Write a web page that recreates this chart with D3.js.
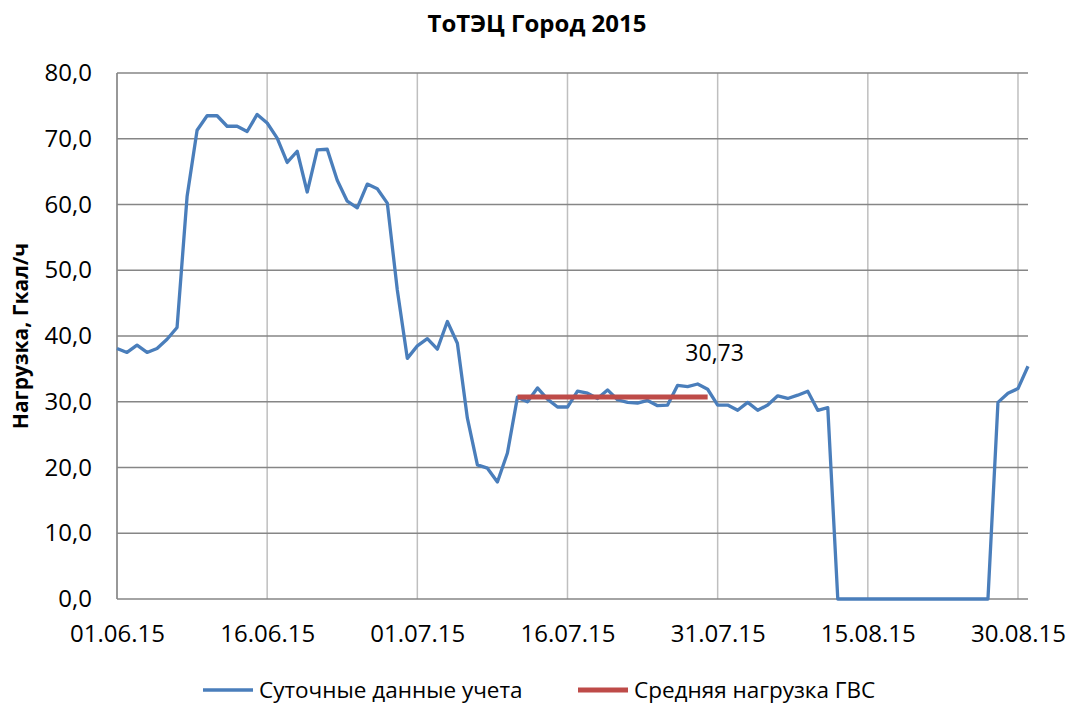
<!DOCTYPE html>
<html>
<head>
<meta charset="utf-8">
<script src="https://cdn.jsdelivr.net/npm/d3@7"></script>
<style>
  body { margin: 0; background: #fff; }
  svg text { font-family: "Open Sans", sans-serif; fill: #000; }
</style>
</head>
<body>
<svg id="chart" width="1074" height="704"></svg>
<script>
var title = 'ТоТЭЦ Город 2015';
var yTitle = 'Нагрузка, Гкал/ч';
var seriesNames = ['Суточные данные учета', 'Средняя нагрузка ГВС'];

var startDate = '2015-06-01';
var endDate = '2015-08-31';
var tickDates = ['2015-06-01', '2015-06-16', '2015-07-01', '2015-07-16', '2015-07-31', '2015-08-15', '2015-08-30'];
var yTicks = [0, 10, 20, 30, 40, 50, 60, 70, 80];

// daily metering values, one per day from 01.06.15
var daily = [
  38.1, 37.5, 38.6, 37.5, 38.1, 39.5, 41.3, 61.2, 71.3, 73.5,
  73.5, 71.9, 71.9, 71.1, 73.7, 72.4, 70.1, 66.4, 68.1, 61.9,
  68.3, 68.4, 63.7, 60.5, 59.5, 63.1, 62.4, 60.2, 47.0, 36.6,
  38.5, 39.6, 38.0, 42.2, 38.9, 27.5, 20.4, 19.9, 17.8, 22.2,
  30.7, 30.0, 32.1, 30.4, 29.2, 29.2, 31.6, 31.3, 30.5, 31.8,
  30.3, 29.9, 29.8, 30.2, 29.4, 29.5, 32.5, 32.3, 32.7, 31.9,
  29.5, 29.5, 28.7, 29.9, 28.7, 29.5, 30.9, 30.5, 31.0, 31.6,
  28.7, 29.1, 0, 0, 0, 0, 0, 0, 0, 0,
  0, 0, 0, 0, 0, 0, 0, 0, 29.9, 31.3,
  32.0, 35.4
];

var avgLoad = 30.73;
var avgFrom = '2015-07-11';
var avgTo = '2015-07-30';

var parse = d3.utcParse('%Y-%m-%d');
var fmtDate = d3.utcFormat('%d.%m.%y');
var fmtNum = function(v){ return d3.format('.1f')(v).replace('.', ','); };

var svg = d3.select('#chart');
var margin = { left: 117, right: 46, top: 73, bottom: 105 };
var width = 1074 - margin.left - margin.right;
var height = 704 - margin.top - margin.bottom;

var x = d3.scaleUtc()
  .domain([parse(startDate), parse(endDate)])
  .range([0, width]);
var y = d3.scaleLinear()
  .domain([0, 80])
  .range([height, 0]);

var g = svg.append('g')
  .attr('transform', 'translate(' + margin.left + ',' + margin.top + ')');

// vertical grid
g.append('g')
  .selectAll('line')
  .data(tickDates.map(parse))
  .enter().append('line')
  .attr('x1', function(d){ return x(d); })
  .attr('x2', function(d){ return x(d); })
  .attr('y1', 0)
  .attr('y2', height)
  .style('stroke', '#bfbfbf')
  .style('stroke-width', 1.5);

// horizontal grid
g.append('g')
  .selectAll('line')
  .data(yTicks)
  .enter().append('line')
  .attr('x1', 0)
  .attr('x2', width)
  .attr('y1', function(d){ return y(d); })
  .attr('y2', function(d){ return y(d); })
  .style('stroke', '#868686')
  .style('stroke-width', 1.5);

g.append('line')
  .attr('x1', 0).attr('x2', 0)
  .attr('y1', 0).attr('y2', height)
  .style('stroke', '#868686')
  .style('stroke-width', 1.5);

// y axis labels
var yAxis = d3.axisLeft(y).tickValues(yTicks).tickFormat(fmtNum).tickSize(0).tickPadding(25);
var ya = g.append('g').call(yAxis);
ya.select('.domain').remove();
ya.selectAll('text')
  .style('font-family', '"Open Sans", sans-serif')
  .style('font-size', '24px');

// x axis labels
var xAxis = d3.axisBottom(x).tickValues(tickDates.map(parse)).tickFormat(fmtDate).tickSize(0).tickPadding(26);
var xa = g.append('g').attr('transform', 'translate(0,' + height + ')').call(xAxis);
xa.select('.domain').remove();
xa.selectAll('text')
  .style('font-family', '"Open Sans", sans-serif')
  .style('font-size', '24px');

var line = d3.line()
  .x(function(d, i){ return x(d3.utcDay.offset(parse(startDate), i)); })
  .y(function(d){ return y(d); });

g.append('path')
  .datum(daily)
  .attr('d', line)
  .style('fill', 'none')
  .style('stroke', '#4a7ebb')
  .style('stroke-width', 3.3)
  .style('stroke-linejoin', 'round');

// average load
g.append('line')
  .attr('x1', x(parse(avgFrom)))
  .attr('x2', x(parse(avgTo)))
  .attr('y1', y(avgLoad))
  .attr('y2', y(avgLoad))
  .style('stroke', '#be4b48')
  .style('stroke-width', 5);

g.append('text')
  .attr('x', x(parse(avgTo)) + 7)
  .attr('y', y(avgLoad) - 36)
  .attr('text-anchor', 'middle')
  .style('font-size', '23px')
  .text(d3.format('.2f')(avgLoad).replace('.', ','));

// title
svg.append('text')
  .attr('x', 537)
  .attr('y', 32)
  .attr('text-anchor', 'middle')
  .style('font-size', '24px')
  .style('font-weight', 'bold')
  .text(title);

svg.append('text')
  .attr('transform', 'translate(28,' + (margin.top + height / 2) + ') rotate(-90)')
  .attr('text-anchor', 'middle')
  .style('font-size', '21px')
  .style('font-weight', 'bold')
  .text(yTitle);

// legend
var legendColors = ['#4a7ebb', '#be4b48'];
var legendX = [203, 578];
var legend = svg.selectAll('.legend')
  .data(seriesNames)
  .enter().append('g')
  .attr('class', 'legend')
  .attr('transform', function(d, i){ return 'translate(' + legendX[i] + ',690)'; });

legend.append('line')
  .attr('x1', 0).attr('x2', 50)
  .attr('y1', 0).attr('y2', 0)
  .style('stroke', function(d, i){ return legendColors[i]; })
  .style('stroke-width', function(d, i){ return i == 0 ? 3.3 : 5; });

legend.append('text')
  .attr('x', 56)
  .attr('y', 8)
  .style('font-size', '22.5px')
  .text(function(d){ return d; });
</script>
</body>
</html>
